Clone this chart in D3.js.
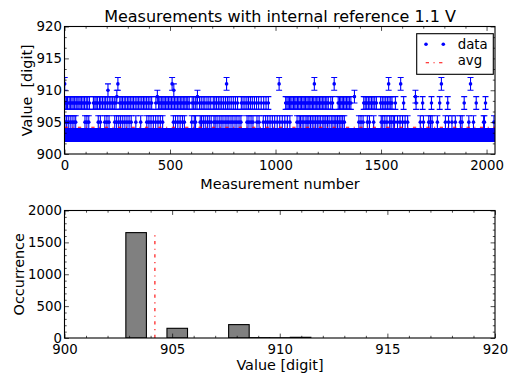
<!DOCTYPE html>
<html><head><meta charset="utf-8">
<script src="https://cdn.jsdelivr.net/npm/d3@7"></script>
<style>
body{margin:0;background:#fff}
text{font-family:"DejaVu Sans",sans-serif;fill:#000}
</style>
</head><body>
<svg id="chart" width="516" height="373"></svg>
<script>
// ---------------- data ----------------
const nMeasurements = 2040;
const baseValue = 903;
const errorValue = 1;
const idx905 = [2, 10, 18, 27, 36, 45, 53,
  88, 97, 106, 115,
  160, 170, 180, 191, 201, 211,
  238, 247, 257, 266, 276, 286, 296, 306, 316, 327, 338, 350, 361,
  390, 400, 410, 421, 432, 443, 454, 465,
  516, 526, 537, 548, 559, 568,
  603, 615, 621, 630, 643, 649, 658, 667, 677, 686, 695, 708, 714, 723, 733, 742, 751, 761, 770, 779, 789, 798, 808, 817, 827, 836, 846, 855, 865, 874, 884, 893,
  912, 922, 932, 942, 953, 963, 974, 985, 996,
  1008, 1020, 1032, 1044, 1056, 1068,
  1102, 1112, 1118, 1126, 1134, 1144, 1150, 1158, 1166, 1174, 1182, 1190, 1198, 1206, 1214, 1224, 1230, 1238, 1246, 1254, 1264, 1272, 1281, 1286, 1294, 1302, 1310, 1318, 1326,
  1395, 1405, 1415, 1425, 1435, 1445, 1455, 1465,
  1501, 1508, 1518, 1528, 1541, 1548, 1558, 1564, 1578, 1590, 1602, 1614, 1626,
  1686, 1701, 1726, 1734, 1742, 1767, 1805, 1820, 1836, 1852, 1876, 1884, 1916, 1924, 1938, 1986, 1990, 2035];
const idx908 = [3, 9, 14, 22, 28, 35, 41, 48, 55, 60, 68, 74, 81, 88, 95, 103, 110, 118,
  137, 144, 150, 157, 166, 172, 180, 188, 195, 203, 212, 220, 228, 236, 244,
  262, 268, 275, 283, 290, 298, 305, 312, 320, 327, 335, 343, 350, 358, 366, 374, 381, 389, 397, 405, 413,
  433, 440, 446, 452, 459, 466, 472, 479, 486, 493, 500, 507, 514, 521, 528, 535, 542, 549, 556, 563, 570, 577, 584, 591,
  605, 612, 620, 628, 640, 648, 657, 665, 675, 684, 693,
  705, 712, 720, 729, 737, 745, 754, 763, 772, 780, 790, 800, 810, 820,
  838, 846, 855, 864, 872, 881, 890, 900, 910, 920, 932, 944, 955, 966,
  1048, 1054, 1060, 1066, 1072, 1078, 1085, 1091, 1097, 1104, 1110, 1117, 1123, 1130, 1136, 1142, 1149, 1155, 1162, 1168, 1175, 1181, 1188, 1195, 1201, 1208, 1215, 1222, 1229, 1236, 1243, 1250,
  1262, 1270,
  1297, 1303, 1309, 1316, 1322, 1329, 1336, 1343, 1350, 1357,
  1418, 1425, 1432, 1440, 1447, 1455, 1462, 1470, 1478,
  1498, 1506, 1514, 1522, 1530, 1538, 1546, 1552,
  1568, 1607, 1666, 1697, 1739, 1778, 1816, 1894, 1951, 1995];
const idx909 = [248, 440, 630, 1374, 1663];
const idx910 = [206, 518];
const idx911 = [1, 253, 510, 768, 1017, 1184, 1278, 1536, 1593, 1786, 1924];
const averageValue = 904.2;

const binEdges = [902.85, 903.805, 904.76, 905.715, 906.67, 907.625, 908.58, 909.535, 910.49, 911.445];
const binCounts = [1653, 0, 152, 0, 0, 210, 5, 3, 11];

const topXTicks = [0, 500, 1000, 1500, 2000];
const topYTicks = [900, 905, 910, 915, 920];
const botXTicks = [900, 905, 910, 915, 920];
const botYTicks = [0, 500, 1000, 1500, 2000];

const titleText = "Measurements with internal reference 1.1 V";
const topXLabel = "Measurement number";
const topYLabel = "Value  [digit]";
const botXLabel = "Value [digit]";
const botYLabel = "Occurrence";
const legendLabels = ["data", "avg"];

// ------------- build series -------------
const values = new Array(nMeasurements).fill(baseValue);
[[idx905, 905], [idx908, 908], [idx909, 909], [idx910, 910], [idx911, 911]].forEach(([list, v]) => {
  list.forEach(i => { values[i] = v; });
});
const points = values.map((v, i) => ({i, v}));

// ------------- layout -------------
const svg = d3.select("#chart");
const A1 = {l: 64.5, r: 495, t: 26.5, b: 154};
const A2 = {l: 64.5, r: 495, t: 210.5, b: 338};
const x1 = d3.scaleLinear().domain([0, nMeasurements]).range([A1.l, A1.r]);
const y1 = d3.scaleLinear().domain([900, 920]).range([A1.b, A1.t]);
const x2 = d3.scaleLinear().domain([900, 920]).range([A2.l, A2.r]);
const y2 = d3.scaleLinear().domain([0, 2000]).range([A2.b, A2.t]);

const BLUE = "#0000ff", RED = "#ff0000";
const LW = 1.1;
const dashDot = "3.3,4.5,1.1,4.5";

const defs = svg.append("defs");
defs.append("clipPath").attr("id", "clip1").append("rect")
  .attr("x", A1.l).attr("y", A1.t).attr("width", A1.r - A1.l).attr("height", A1.b - A1.t);
defs.append("clipPath").attr("id", "clip2").append("rect")
  .attr("x", A2.l).attr("y", A2.t).attr("width", A2.r - A2.l).attr("height", A2.b - A2.t);

// ------------- top plot -------------
const g1 = svg.append("g").attr("clip-path", "url(#clip1)");
const cap = 3;
g1.append("g").selectAll("path").data(points).join("path")
  .attr("d", d => {
    const x = x1(d.i), ya = y1(d.v - errorValue), yb = y1(d.v + errorValue);
    return `M${x},${ya}V${yb}M${x - cap},${ya}H${x + cap}M${x - cap},${yb}H${x + cap}`;
  })
  .attr("stroke", BLUE).attr("stroke-width", LW).attr("fill", "none");
g1.append("g").selectAll("circle").data(points).join("circle")
  .attr("cx", d => x1(d.i)).attr("cy", d => y1(d.v)).attr("r", 1.8).attr("fill", BLUE);
g1.append("line")
  .attr("x1", x1(0)).attr("x2", x1(nMeasurements))
  .attr("y1", y1(averageValue)).attr("y2", y1(averageValue))
  .attr("stroke", RED).attr("stroke-width", LW).attr("stroke-dasharray", dashDot);

// ------------- bottom plot -------------
const g2 = svg.append("g").attr("clip-path", "url(#clip2)");
const bins = binCounts.map((c, k) => ({x0: binEdges[k], x1: binEdges[k + 1], c}));
g2.append("g").selectAll("rect").data(bins).join("rect")
  .attr("x", d => x2(d.x0)).attr("width", d => x2(d.x1) - x2(d.x0))
  .attr("y", d => y2(d.c)).attr("height", d => y2(0) - y2(d.c))
  .attr("fill", "#808080").attr("stroke", "#000").attr("stroke-width", LW);
g2.append("line")
  .attr("x1", x2(averageValue)).attr("x2", x2(averageValue))
  .attr("y1", y2(0)).attr("y2", y2(d3.max(binCounts)))
  .attr("stroke", RED).attr("stroke-width", LW).attr("stroke-dasharray", dashDot);

// ------------- axes -------------
function range(a, b, s) { const r = []; for (let v = a; v <= b + 1e-9; v += s) r.push(+v.toFixed(6)); return r; }
function drawAxes(A, xs, ys, xt, yt, xMinor, yMinor, fontSize, xPad) {
  const MAJ = 4.4, MIN = 2.2;
  const style = sel => {
    sel.select(".domain").remove();
    sel.selectAll(".tick line").attr("stroke", "#000").attr("stroke-width", 0.7);
    sel.selectAll("text").style("font-size", fontSize + "px").style("font-family", '"DejaVu Sans",sans-serif');
  };
  const minorX = xMinor.filter(v => !xt.includes(v));
  const minorY = yMinor.filter(v => !yt.includes(v));
  svg.append("g").attr("transform", `translate(0,${A.b})`)
    .call(d3.axisBottom(xs).tickValues(xt).tickFormat(d3.format("d")).tickSizeInner(-MAJ).tickSizeOuter(0).tickPadding(xPad)).call(style);
  svg.append("g").attr("transform", `translate(0,${A.b})`)
    .call(d3.axisBottom(xs).tickValues(minorX).tickFormat("").tickSizeInner(-MIN).tickSizeOuter(0)).call(style);
  svg.append("g").attr("transform", `translate(0,${A.t})`)
    .call(d3.axisTop(xs).tickValues(xt).tickFormat("").tickSizeInner(-MAJ).tickSizeOuter(0)).call(style);
  svg.append("g").attr("transform", `translate(0,${A.t})`)
    .call(d3.axisTop(xs).tickValues(minorX).tickFormat("").tickSizeInner(-MIN).tickSizeOuter(0)).call(style);
  svg.append("g").attr("transform", `translate(${A.l},0)`)
    .call(d3.axisLeft(ys).tickValues(yt).tickFormat(d3.format("d")).tickSizeInner(-MAJ).tickSizeOuter(0).tickPadding(2.6)).call(style);
  svg.append("g").attr("transform", `translate(${A.l},0)`)
    .call(d3.axisLeft(ys).tickValues(minorY).tickFormat("").tickSizeInner(-MIN).tickSizeOuter(0)).call(style);
  svg.append("g").attr("transform", `translate(${A.r},0)`)
    .call(d3.axisRight(ys).tickValues(yt).tickFormat("").tickSizeInner(-MAJ).tickSizeOuter(0)).call(style);
  svg.append("g").attr("transform", `translate(${A.r},0)`)
    .call(d3.axisRight(ys).tickValues(minorY).tickFormat("").tickSizeInner(-MIN).tickSizeOuter(0)).call(style);
  svg.append("rect").attr("x", A.l).attr("y", A.t).attr("width", A.r - A.l).attr("height", A.b - A.t)
    .attr("fill", "none").attr("stroke", "#000").attr("stroke-width", LW);
}
drawAxes(A1, x1, y1, topXTicks, topYTicks, range(0, 2000, 100), range(900, 920, 5 / 3), 13.3, 6.5);
drawAxes(A2, x2, y2, botXTicks, botYTicks, range(900, 920, 1), range(0, 2000, 100), 13.3, 7);

// ------------- texts -------------
svg.append("text").attr("x", 280).attr("y", 22.4).attr("text-anchor", "middle")
  .style("font-size", "16px").text(titleText);
svg.append("text").attr("x", 280).attr("y", 188.5).attr("text-anchor", "middle")
  .style("font-size", "14.4px").text(topXLabel);
svg.append("text").attr("transform", `translate(31.5,${(A1.t + A1.b) / 2}) rotate(-90)`).attr("text-anchor", "middle")
  .style("font-size", "14.4px").style("white-space", "pre").text(topYLabel);
svg.append("text").attr("x", 280).attr("y", 369.5).attr("text-anchor", "middle")
  .style("font-size", "14.4px").text(botXLabel);
svg.append("text").attr("transform", `translate(23.5,${(A2.t + A2.b) / 2}) rotate(-90)`).attr("text-anchor", "middle")
  .style("font-size", "14.4px").text(botYLabel);

// ------------- legend -------------
const lg = svg.append("g");
lg.append("rect").attr("x", 416.7).attr("y", 33.7).attr("width", 76.6).attr("height", 40.6)
  .attr("fill", "#fff").attr("stroke", "#000").attr("stroke-width", LW);
lg.selectAll("circle.l").data([426, 443.3]).join("circle").attr("class", "l")
  .attr("cx", d => d).attr("cy", 44.3).attr("r", 1.8).attr("fill", BLUE);
lg.append("line").attr("x1", 425.7).attr("x2", 443).attr("y1", 62.7).attr("y2", 62.7)
  .attr("stroke", RED).attr("stroke-width", LW).attr("stroke-dasharray", dashDot);
lg.selectAll("text.l").data(legendLabels).join("text").attr("class", "l")
  .attr("x", 457.7).attr("y", (d, i) => i === 0 ? 49.3 : 65.3)
  .style("font-size", "13.3px").text(d => d);
</script>
</body></html>
